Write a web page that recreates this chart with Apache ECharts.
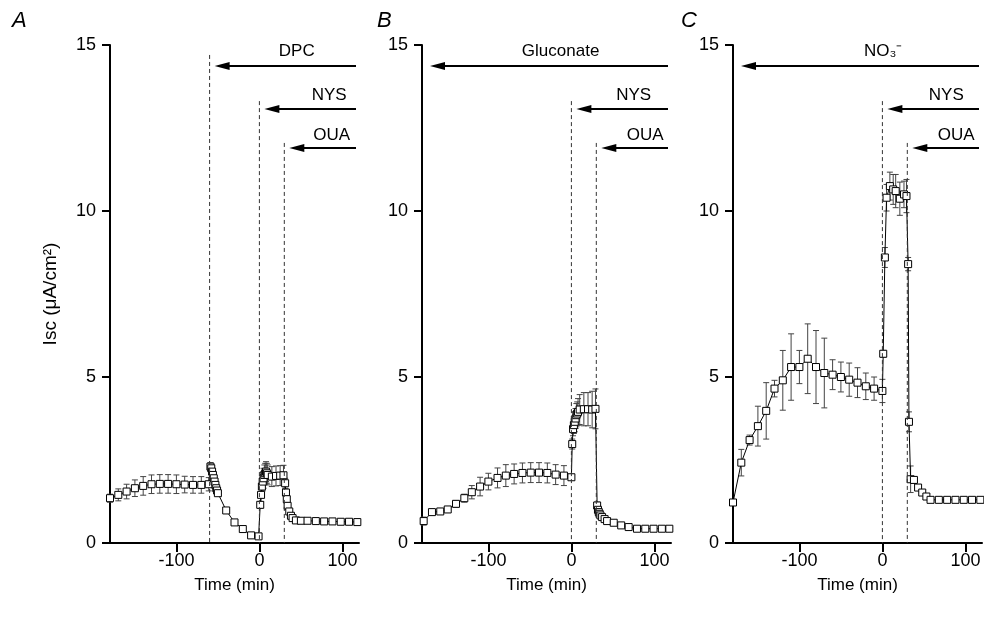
<!DOCTYPE html>
<html><head><meta charset="utf-8">
<script src="https://cdn.jsdelivr.net/npm/echarts@6/dist/echarts.min.js"></script>
<style>html,body{margin:0;padding:0;background:#fff}#c{width:984px;height:621px}</style>
</head><body><div id="c"></div><script>
// ---------- DATA ----------
const timeA  = [-180,-170,-160,-150,-140,-130,-120,-110,-100,-90,-80,-70,-61,-59,-58,-57,-56,-55,-54,-53,-52,-51,-50,-40,-30,-20,-10,-1,1,2,3,4,5,6,7,8,9,10,15,20,25,29,31,32,33,34,36,38,40,44,50,58,68,78,88,98,108,118];
const valueA = [1.35,1.45,1.55,1.65,1.72,1.77,1.78,1.78,1.77,1.76,1.75,1.75,1.77,2.3,2.25,2.15,2.05,1.95,1.85,1.75,1.65,1.58,1.5,0.98,0.62,0.42,0.23,0.2,1.15,1.45,1.7,1.85,1.95,2.05,2.1,2.15,2.1,2.05,2.0,2.02,2.03,2.04,1.8,1.52,1.32,1.12,0.95,0.82,0.75,0.68,0.67,0.67,0.66,0.65,0.65,0.64,0.64,0.63];
const errA   = [0.12,0.18,0.22,0.25,0.28,0.28,0.28,0.28,0.28,0.25,0.25,0.25,0.2,0.12,0.1,0.1,0.1,0.1,0.1,0.08,0.08,0.06,0.06,0.04,0.04,0.03,0.03,0.03,0.1,0.2,0.25,0.28,0.3,0.3,0.3,0.3,0.3,0.3,0.3,0.3,0.3,0.3,0.15,0.1,0.08,0.06,0.05,0.04,0.04,0.03,0.03,0.03,0.03,0.03,0.03,0.03,0.03,0.03];

const timeB  = [-178,-168,-158,-149,-139,-129,-120,-110,-100,-89,-79,-69,-59,-49,-39,-29,-19,-9,0,1,2,3,4,5,6,7,8,10,15,20,25,29,31,32,33,34,35,37,40,43,51,60,69,79,89,99,109,118];
const valueB = [0.66,0.93,0.95,1.01,1.18,1.35,1.53,1.7,1.85,1.96,2.03,2.08,2.11,2.12,2.12,2.11,2.06,2.03,1.98,2.98,3.43,3.55,3.65,3.75,3.85,3.9,3.95,4.02,4.03,4.03,4.02,4.04,1.13,1.0,0.93,0.88,0.83,0.78,0.72,0.66,0.61,0.53,0.48,0.43,0.43,0.43,0.43,0.43];
const errB   = [0.12,0.06,0.06,0.08,0.1,0.12,0.2,0.28,0.25,0.3,0.33,0.3,0.3,0.3,0.3,0.3,0.3,0.3,0.05,0.15,0.2,0.25,0.3,0.3,0.35,0.35,0.4,0.45,0.5,0.5,0.55,0.6,0.1,0.08,0.06,0.05,0.05,0.04,0.04,0.03,0.03,0.03,0.03,0.03,0.03,0.03,0.03,0.03];

const timeC  = [-180,-170,-160,-150,-140,-130,-120,-110,-100,-90,-80,-70,-60,-50,-40,-30,-20,-10,0,1,3,5,9,13,16,21,26,29,31,32,34,38,43,48,53,58,68,78,88,98,108,118];
const valueC = [1.22,2.42,3.1,3.52,3.98,4.65,4.9,5.3,5.3,5.55,5.3,5.12,5.07,5.0,4.92,4.83,4.72,4.65,4.58,5.7,8.6,10.4,10.75,10.65,10.6,10.37,10.5,10.45,8.4,3.65,1.92,1.9,1.67,1.52,1.4,1.3,1.3,1.3,1.3,1.3,1.3,1.3];
const errC   = [0.05,0.4,0.15,0.6,0.85,0.25,0.9,1.0,0.5,1.05,1.1,1.05,0.45,0.45,0.5,0.45,0.4,0.35,0.35,0.1,0.3,0.4,0.42,0.45,0.5,0.5,0.4,0.5,0.2,0.3,0.4,0.1,0.05,0.04,0.03,0.03,0.03,0.03,0.03,0.03,0.03,0.03];

const treatNamesA = ['DPC','NYS','OUA'];
const treatTimesA = [-60, 0, 30];
const treatNamesB = ['Gluconate','NYS','OUA'];
const treatTimesB = [-180, 0, 30];
const treatNamesC = ['NO\u2083\u207B','NYS','OUA'];
const treatTimesC = [-180, 0, 30];

const panelLetters = ['A','B','C'];
const xTickValues = [-100, 0, 100];
const yAxisName = 'Isc (\u03BCA/cm\u00B2)';
const xAxisName = 'Time (min)';

// ---------- LAYOUT ----------
const FONT = '"Liberation Sans", Arial, Helvetica, sans-serif';
const gridLefts = [110, 422, 733];
const GRID_TOP = 45, GRID_W = 249, GRID_H = 498;
const XMIN = -180, XMAX = 120;
const arrowY = [14.37, 13.07, 11.9];
const textY  = [14.82, 13.49, 12.29];
const dashTop = [14.7, 13.31, 12.05];
const textTs = [[45, 84, 87], [-13, 75, 89], [1, 77, 89]];
const letterPos = [[12, 10], [377, 10], [681, 10]];

const panels = [
  {t: timeA, v: valueA, e: errA, names: treatNamesA, times: treatTimesA},
  {t: timeB, v: valueB, e: errB, names: treatNamesB, times: treatTimesB},
  {t: timeC, v: valueC, e: errC, names: treatNamesC, times: treatTimesC}
];

function errRender(params, api) {
  const x = api.value(0), y = api.value(1), e = api.value(2);
  const lo = api.coord([x, y - e]), hi = api.coord([x, y + e]);
  const w = 3, st = {stroke: '#444', lineWidth: 1};
  return {type: 'group', children: [
    {type: 'line', shape: {x1: lo[0], y1: lo[1], x2: hi[0], y2: hi[1]}, style: st},
    {type: 'line', shape: {x1: hi[0] - w, y1: hi[1], x2: hi[0] + w, y2: hi[1]}, style: st},
    {type: 'line', shape: {x1: lo[0] - w, y1: lo[1], x2: lo[0] + w, y2: lo[1]}, style: st}
  ]};
}

function annRenderFactory(pi) {
  const p = panels[pi];
  return function (params, api) {
    const i = params.dataIndex;
    const t = api.value(0), row = api.value(1);
    const base = api.coord([t, arrowY[row]]);
    const right = api.coord([XMAX, arrowY[row]])[0] - 3;
    const tip = base[0] + (t === XMIN ? 8 : 5);
    const y = base[1];
    const children = [
      {type: 'line', shape: {x1: tip + 10, y1: y, x2: right, y2: y}, style: {stroke: '#000', lineWidth: 2}},
      {type: 'polygon', shape: {points: [[tip, y], [tip + 15, y - 4], [tip + 15, y + 4]]}, style: {fill: '#000'}},
      {type: 'text', x: api.coord([textTs[pi][row], 0])[0], y: api.coord([0, textY[row]])[1],
        style: {text: p.names[i], fontSize: 17, fontFamily: FONT, fill: '#000', align: 'center', verticalAlign: 'middle'}}
    ];
    if (t !== XMIN) {
      const top = api.coord([t, dashTop[row]]), bot = api.coord([t, 0]);
      children.push({type: 'line', shape: {x1: top[0], y1: top[1], x2: bot[0], y2: bot[1]},
        style: {stroke: '#333', lineWidth: 1, lineDash: [4, 3]}});
    }
    return {type: 'group', children};
  };
}

const grids = [], xAxes = [], yAxes = [], series = [];
panels.forEach((p, i) => {
  grids.push({left: gridLefts[i], top: GRID_TOP, width: GRID_W, height: GRID_H, containLabel: false});
  xAxes.push({
    type: 'value', gridIndex: i, min: XMIN, max: XMAX,
    name: xAxisName, nameLocation: 'middle', nameGap: 34,
    nameTextStyle: {fontSize: 17, fontFamily: FONT, color: '#000'},
    axisLine: {onZero: false, lineStyle: {color: '#000', width: 2}},
    axisTick: {show: true, length: 9, lineStyle: {color: '#000', width: 2}, customValues: xTickValues},
    axisLabel: {fontSize: 18, fontFamily: FONT, color: '#000', margin: 9, customValues: xTickValues},
    splitLine: {show: false}
  });
  yAxes.push({
    type: 'value', gridIndex: i, min: 0, max: 15, interval: 5,
    name: i === 0 ? yAxisName : '', nameLocation: 'middle', nameGap: 50, nameRotate: 90,
    nameTextStyle: {fontSize: 19, fontFamily: FONT, color: '#000'},
    axisLine: {show: true, onZero: false, lineStyle: {color: '#000', width: 2}},
    axisTick: {show: true, length: 8, lineStyle: {color: '#000', width: 2}},
    axisLabel: {fontSize: 18, fontFamily: FONT, color: '#000', margin: 14},
    splitLine: {show: false}
  });
  series.push({
    type: 'custom', xAxisIndex: i, yAxisIndex: i, renderItem: errRender, z: 2,
    data: p.t.map((t, k) => [t, p.v[k], p.e[k]]), silent: true
  });
  series.push({
    type: 'line', xAxisIndex: i, yAxisIndex: i, z: 3,
    data: p.t.map((t, k) => [t, p.v[k]]),
    symbol: 'rect', symbolSize: 7, showAllSymbol: true,
    itemStyle: {color: '#fff', borderColor: '#000', borderWidth: 1},
    lineStyle: {color: '#000', width: 1}
  });
  series.push({
    type: 'custom', xAxisIndex: i, yAxisIndex: i, renderItem: annRenderFactory(i), z: 4,
    data: p.times.map((t, k) => [t, k]), clip: false, silent: true
  });
});

const chart = echarts.init(document.getElementById('c'), null, {renderer: 'canvas'});
chart.setOption({
  animation: false,
  backgroundColor: '#fff',
  grid: grids, xAxis: xAxes, yAxis: yAxes, series,
  graphic: panelLetters.map((L, i) => ({
    type: 'text', left: letterPos[i][0], top: letterPos[i][1],
    style: {text: L, fontSize: 22, fontStyle: 'italic', fontFamily: FONT, fill: '#000'}
  }))
});
</script></body></html>
